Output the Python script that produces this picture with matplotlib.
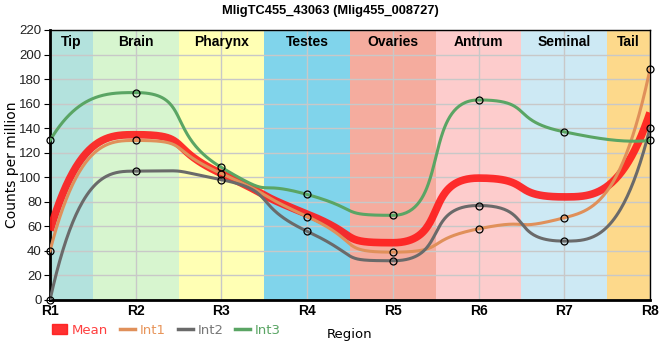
import numpy as np
import matplotlib
matplotlib.use('Agg')
import matplotlib.pyplot as plt
import matplotlib.patches as mpatches
from matplotlib.lines import Line2D

plt.rcParams['font.family'] = ['Liberation Sans', 'DejaVu Sans']

# data
regions = ['R1', 'R2', 'R3', 'R4', 'R5', 'R6', 'R7', 'R8']
int1 = [40, 130, 103, 68, 39, 58, 67, 188]
int2 = [0, 105, 98, 56, 32, 77, 48, 140]
int3 = [130, 169, 108, 86, 69, 163, 137, 130]
tissues = ['Tip', 'Brain', 'Pharynx', 'Testes', 'Ovaries', 'Antrum', 'Seminal', 'Tail']
tissue_colors = ['#b3e2dd', '#d7f5cf', '#ffffb4', '#80d4eb', '#f5ac9e', '#fdcccc', '#cde9f4', '#fdd98b']


def smooth_curve(x, y, handle=2/3, n=80):
    '''
    monotone 斜率 + 較長的 bezier 把手 (中間段), 兩端用一般 hermite
    '''
    x = np.asarray(x, float)
    y = np.asarray(y, float)
    h = np.diff(x)
    d = np.diff(y) / h
    m = np.zeros(len(x))
    for k in range(1, len(x) - 1):
        p = (d[k - 1] * h[k] + d[k] * h[k - 1]) / (h[k - 1] + h[k])
        m[k] = (np.sign(d[k - 1]) + np.sign(d[k])) * min(abs(d[k - 1]), abs(d[k]), 0.5 * abs(p))
    m[0] = 3 * d[0] - 2 * m[1]
    m[-1] = 3 * d[-1] - 2 * m[-2]
    s = np.linspace(0, 1, n)[:, None]
    b = np.hstack([(1 - s)**3, 3 * s * (1 - s)**2, 3 * s**2 * (1 - s), s**3])
    xs, ys = [], []
    last = len(x) - 2
    for k in range(len(x) - 1):
        a = h[k] / 3 if k in (0, last) else handle * h[k]
        px = np.array([x[k], x[k] + a, x[k + 1] - a, x[k + 1]])
        py = np.array([y[k], y[k] + a * m[k], y[k + 1] - a * m[k + 1], y[k + 1]])
        xs.append(b @ px)
        ys.append(b @ py)
    return np.concatenate(xs), np.concatenate(ys)


x = np.arange(len(regions))
mean = np.mean([int1, int2, int3], axis=0)

fig = plt.figure(figsize=(6.6, 3.6), dpi=100)
ax = fig.add_axes([50 / 660, 60 / 360, 600 / 660, 270 / 360])

# 背景區塊
edges = [0] + [i + 0.5 for i in range(len(regions) - 1)] + [len(regions) - 1]
for i, (name, col) in enumerate(zip(tissues, tissue_colors)):
    ax.axvspan(edges[i], edges[i + 1], color=col, lw=0, zorder=0)
    ax.text((edges[i] + edges[i + 1]) / 2, 210, name, ha='center', va='center',
            fontsize=10, fontweight='bold', zorder=1)

ax.grid(True, color='#c8c8c8', lw=1, zorder=0.5)
ax.set_axisbelow(True)

mx, my = smooth_curve(x, mean)
ax.plot(mx, my, color='#ff1a1a', lw=5.5, alpha=0.9, solid_capstyle='butt', zorder=3)
series = [(int1, '#e0905a'), (int2, '#6a6a6a'), (int3, '#5aa564')]
for vals, col in series:
    cx, cy = smooth_curve(x, vals)
    ax.plot(cx, cy, color=col, lw=2.2, zorder=4)
for vals, col in series:
    ax.plot(x, vals, 'o', ms=5, mfc='none', mec='black', mew=0.9, zorder=5, clip_on=False)

ax.set_xlim(0, len(regions) - 1)
ax.set_ylim(0, 220)
ax.set_yticks(range(0, 221, 20))
ax.set_xticks(x)
ax.set_xticklabels(regions, fontweight='bold', fontsize=10)
ax.tick_params(axis='y', labelsize=9.5, length=4, pad=2, labelcolor='#222222')
ax.tick_params(axis='x', length=0, pad=3)
for s in ['left', 'bottom']:
    ax.spines[s].set_linewidth(2)
for s in ['top', 'right']:
    ax.spines[s].set_linewidth(1)
ax.set_ylabel('Counts per million', fontsize=10, family=['DejaVu Sans'], labelpad=0)
ax.set_xlabel('Region', fontsize=9.5, labelpad=7, family=['DejaVu Sans'])
fig.suptitle('MligTC455_43063 (Mlig455_008727)', fontsize=9.3, fontweight='bold', y=0.985)

handles = [mpatches.Patch(color='#ff1a1a', alpha=0.9),
           Line2D([], [], color='#e0905a', lw=2.5),
           Line2D([], [], color='#6a6a6a', lw=2.5),
           Line2D([], [], color='#5aa564', lw=2.5)]
labels = ['Mean', 'Int1', 'Int2', 'Int3']
leg = fig.legend(handles, labels, ncol=4, frameon=False, loc='center left',
                 bbox_to_anchor=(52 / 660, 1 - 330 / 360),
                 handlelength=1.15, handletextpad=0.35, columnspacing=0.9,
                 borderaxespad=0, borderpad=0, prop={'family': 'DejaVu Sans', 'size': 9.5})
for txt, col in zip(leg.get_texts(), ['#ff4040', '#e8955a', '#777777', '#5aa564']):
    txt.set_color(col)

fig.savefig('out.png', dpi=100)
